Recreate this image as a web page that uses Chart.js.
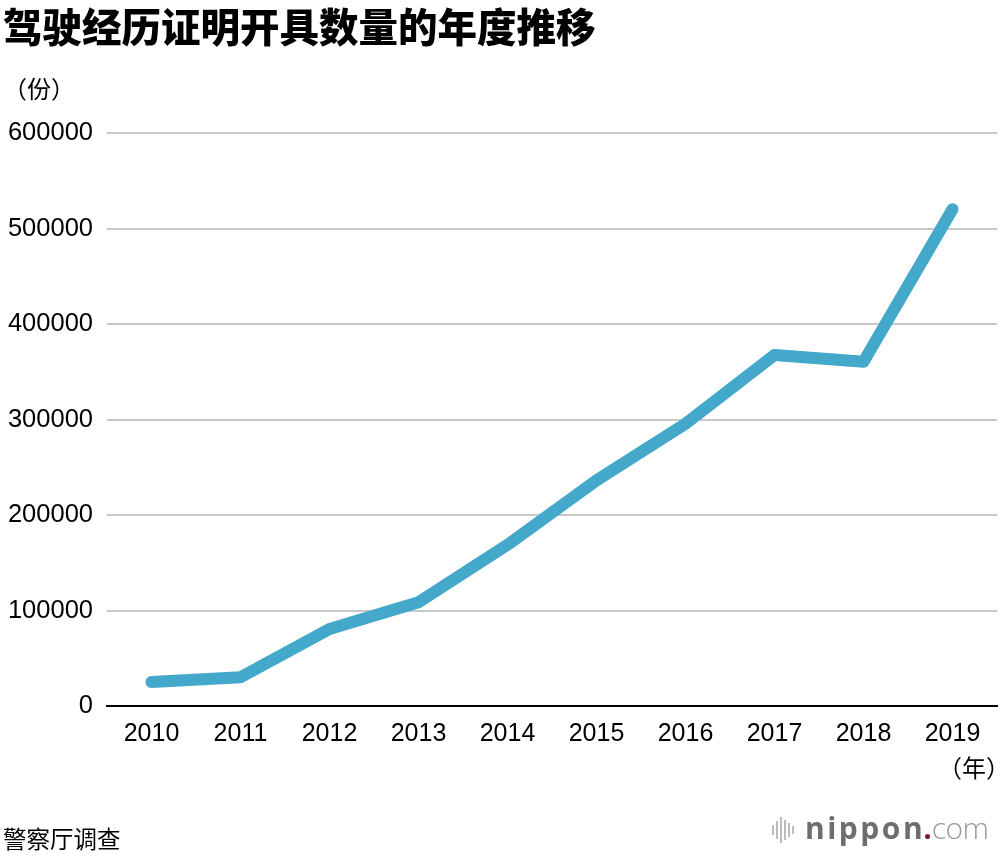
<!DOCTYPE html>
<html lang="zh-CN">
<head>
<meta charset="utf-8">
<title>驾驶经历证明开具数量的年度推移</title>
<script src="https://cdn.jsdelivr.net/npm/chart.js@4.4.1/dist/chart.umd.min.js"></script>
<style>
  html, body { margin: 0; padding: 0; background: #fff; }
  #wrap { position: relative; width: 1000px; height: 856px; overflow: hidden; }
  #grafica { position: absolute; left: 0; top: 0; }
  .txt { position: absolute; color: #000; font-family: "Noto Sans CJK SC", sans-serif; white-space: nowrap; }
  #titulo { left: 3px; top: -2px; font-size: 39.5px; font-weight: 900; line-height: 54px; }
  #unidadY { left: 3px; top: 71px; font-size: 24px; line-height: 34px; }
  #unidadX { left: 938px; top: 750px; font-size: 24px; line-height: 34px; }
  #fuente { left: 3px; top: 821px; font-size: 23.5px; line-height: 34px; }
  #logo { left: 772px; top: 807px; height: 46px; font-family: "Open Sans", "DejaVu Sans", sans-serif; font-size: 30px; line-height: 42px; }
  #logo .barras { display: inline-block; width: 24px; height: 26px; position: relative; top: 4px; margin-right: 9px; }
  #logo .barras i { position: absolute; width: 2px; background: #bdbdbd; }
  #logo .nip { color: #6e6e6e; font-weight: 700; letter-spacing: 2.5px; }
  #logo .punto { color: #7a1f2b; font-weight: 700; margin-left: -2px; }
  #logo .com { color: #9a9a9a; font-weight: 300; letter-spacing: -0.5px; }
</style>
</head>
<body>
<div id="wrap">
  <canvas id="grafica" width="1000" height="856"></canvas>
  <div class="txt" id="titulo">驾驶经历证明开具数量的年度推移</div>
  <div class="txt" id="unidadY">（份）</div>
  <div class="txt" id="unidadX">（年）</div>
  <div class="txt" id="fuente">警察厅调查</div>
  <div class="txt" id="logo"><span class="barras"><i style="left:0;top:8px;height:10px"></i><i style="left:4px;top:4px;height:18px"></i><i style="left:8px;top:0;height:26px"></i><i style="left:12px;top:3px;height:20px"></i><i style="left:16px;top:6px;height:14px"></i><i style="left:20px;top:9px;height:8px"></i></span><span class="nip">nippon</span><span class="punto">.</span><span class="com">com</span></div>
</div>
<script>
// Datos
const anios = ['2010', '2011', '2012', '2013', '2014', '2015', '2016', '2017', '2018', '2019'];
const cantidad = [25200, 30000, 80700, 108600, 168800, 236200, 295600, 367500, 360500, 520100];
const ticksY = [0, 100000, 200000, 300000, 400000, 500000, 600000];

const AZUL = '#43a8ca';

const ctx = document.getElementById('grafica').getContext('2d');

window.graficaLinea = new Chart(ctx, {
  type: 'line',
  data: {
    labels: anios,
    datasets: [{
      label: '驾驶经历证明',
      data: cantidad,
      borderColor: AZUL,
      backgroundColor: AZUL,
      borderWidth: 12,
      borderCapStyle: 'round',
      borderJoinStyle: 'round',
      pointRadius: 0,
      pointHoverRadius: 0,
      fill: false,
      tension: 0,
    }]
  },
  options: {
    responsive: false,
    animation: false,
    devicePixelRatio: 1,
    layout: {
      padding: { top: 133, right: 3, bottom: 0, left: 0 }
    },
    scales: {
      x: {
        offset: true,
        grid: { display: false },
        border: { display: true, color: '#000', width: 2 },
        ticks: {
          color: '#000',
          font: { family: 'Liberation Sans, Arial, sans-serif', size: 25 },
          padding: 5,
          maxRotation: 0,
          autoSkip: false,
        },
        afterFit: (scale) => { scale.height = 150; }
      },
      y: {
        min: 0,
        max: 600000,
        afterBuildTicks: (scale) => { scale.ticks = ticksY.map(v => ({ value: v })); },
        grid: { color: '#c8c8c8', lineWidth: 2, drawTicks: false },
        border: { display: false },
        ticks: {
          color: '#000',
          font: { family: 'Liberation Sans, Arial, sans-serif', size: 25.5 },
          padding: 14,
          callback: (v) => String(v),
        },
        afterFit: (scale) => { scale.width = 107; }
      }
    },
    plugins: {
      legend: { display: false },
      tooltip: { enabled: false },
      title: { display: false }
    }
  }
});
</script>
</body>
</html>
